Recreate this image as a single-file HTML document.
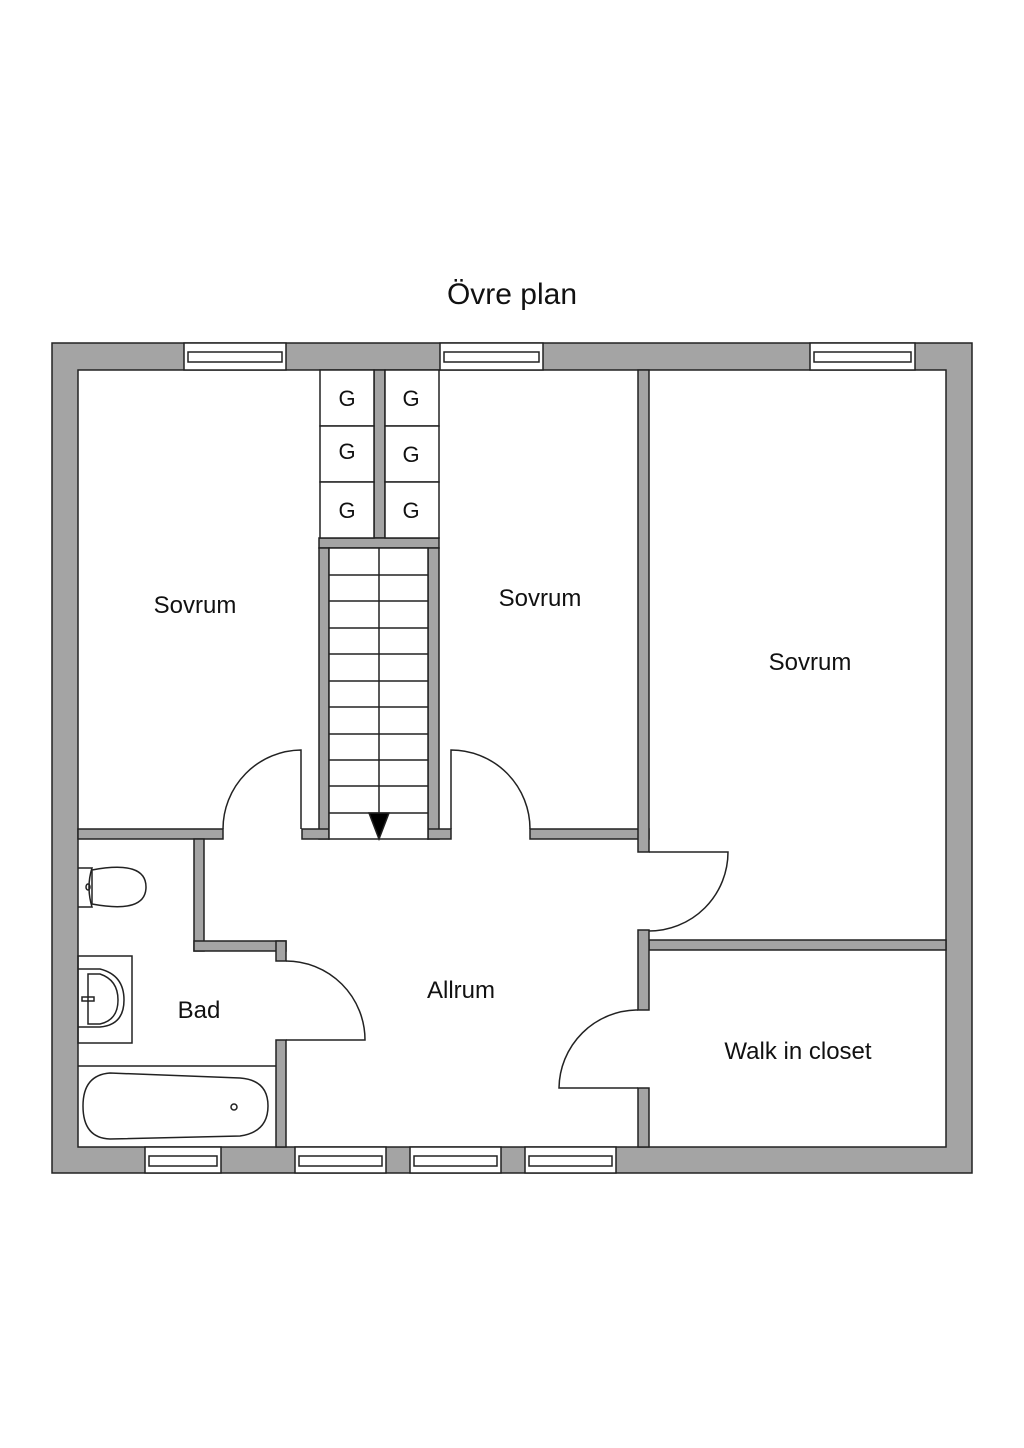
<!DOCTYPE html>
<html><head><meta charset="utf-8"><style>
html,body{margin:0;padding:0;background:#fff;width:1024px;height:1448px;overflow:hidden}
svg{display:block}
text{font-family:"Liberation Sans",sans-serif;fill:#111}
</style></head><body>
<svg width="1024" height="1448" viewBox="0 0 1024 1448" xmlns="http://www.w3.org/2000/svg">
<text x="512" y="304" font-size="30" text-anchor="middle">Övre plan</text>
<g stroke="#222" stroke-width="1.5">
<rect x="52" y="343" width="920" height="830" fill="#a4a4a4"/>
<rect x="78" y="370" width="868" height="777" fill="#fff"/>
<g fill="#a4a4a4">
<rect x="78" y="829" width="145" height="10"/>
<rect x="374" y="370" width="11" height="168"/>
<rect x="319" y="538" width="120" height="10"/>
<rect x="319" y="548" width="10" height="291"/>
<rect x="428" y="548" width="11" height="291"/>
<rect x="302" y="829" width="27" height="10"/>
<rect x="428" y="829" width="23" height="10"/>
<rect x="530" y="829" width="119" height="10"/>
<rect x="638" y="370" width="11" height="482"/>
<rect x="649" y="940" width="297" height="10"/>
<rect x="638" y="930" width="11" height="80"/>
<rect x="638" y="1088" width="11" height="59"/>
<rect x="194" y="839" width="10" height="112"/>
<rect x="194" y="941" width="92" height="10"/>
<rect x="276" y="941" width="10" height="20"/>
<rect x="276" y="1040" width="10" height="107"/>
</g>
<g fill="#fff">
<rect x="320" y="370" width="54" height="56"/><rect x="320" y="426" width="54" height="56"/><rect x="320" y="482" width="54" height="56"/>
<rect x="385" y="370" width="54" height="56"/><rect x="385" y="426" width="54" height="56"/><rect x="385" y="482" width="54" height="56"/>
<rect x="329" y="548" width="99" height="291"/>
</g>
<g fill="none">
<line x1="379" y1="548" x2="379" y2="839"/>
<path d="M329 575H428M329 601H428M329 628H428M329 654H428M329 681H428M329 707H428M329 734H428M329 760H428M329 786H428M329 813H428"/>
<!-- doors -->
<path d="M301 829V750A79 79 0 0 0 223 829"/>
<path d="M451 829V750A79 79 0 0 1 530 829"/>
<path d="M649 852H728A79 79 0 0 1 649 931"/>
<path d="M638 1088H559A79 79 0 0 1 638 1010"/>
<path d="M286 961A79 79 0 0 1 365 1040H286"/>
<!-- bathroom fixtures -->
<path d="M78 868H92Q86 887 92 907H78"/>
<path d="M92 870Q146 860 146 887Q146 914 92 904Z"/>
<ellipse cx="88" cy="887" rx="2" ry="3"/>
<rect x="78" y="956" width="54" height="87"/>
<path d="M78 969H100Q124 975 124 1000Q124 1025 100 1027H78"/>
<path d="M88 974H100Q118 980 118 1000Q118 1020 100 1024H88Z"/>
<rect x="82" y="997" width="12" height="4"/>
<line x1="78" y1="1066" x2="276" y2="1066"/>
<path d="M110 1073Q83 1075 83 1106Q83 1138 110 1139L240 1136Q268 1132 268 1106Q268 1080 240 1078Z"/>
<circle cx="234" cy="1107" r="3"/>
</g>
<polygon points="369,813 389,813 379,839" fill="#000"/>
<!-- windows -->
<g fill="#fff">
<rect x="184" y="343" width="102" height="27"/><rect x="188" y="352" width="94" height="10"/>
<rect x="440" y="343" width="103" height="27"/><rect x="444" y="352" width="95" height="10"/>
<rect x="810" y="343" width="105" height="27"/><rect x="814" y="352" width="97" height="10"/>
<rect x="145" y="1147" width="76" height="26"/><rect x="149" y="1156" width="68" height="10"/>
<rect x="295" y="1147" width="91" height="26"/><rect x="299" y="1156" width="83" height="10"/>
<rect x="410" y="1147" width="91" height="26"/><rect x="414" y="1156" width="83" height="10"/>
<rect x="525" y="1147" width="91" height="26"/><rect x="529" y="1156" width="83" height="10"/>
</g>
</g>
<g font-size="22" text-anchor="middle">
<text x="347" y="406">G</text><text x="347" y="459">G</text><text x="347" y="518">G</text>
<text x="411" y="406">G</text><text x="411" y="462">G</text><text x="411" y="518">G</text>
</g>
<g font-size="24" text-anchor="middle">
<text x="195" y="613">Sovrum</text>
<text x="540" y="606">Sovrum</text>
<text x="810" y="670">Sovrum</text>
<text x="199" y="1018">Bad</text>
<text x="461" y="998">Allrum</text>
<text x="798" y="1059">Walk in closet</text>
</g>
</svg>
</body></html>
